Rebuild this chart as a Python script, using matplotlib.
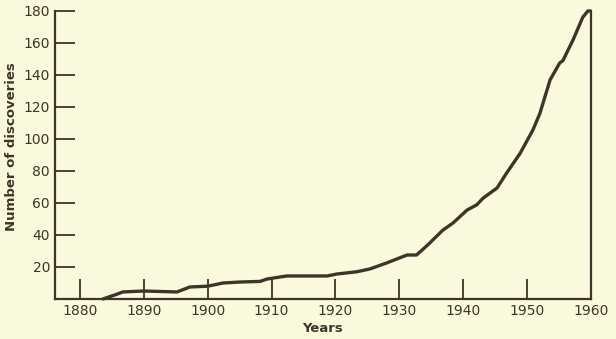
import matplotlib
matplotlib.use("Agg")
import matplotlib.pyplot as plt

years = [1883.6, 1885.8, 1886.7, 1890.0, 1895.2, 1897.2, 1900.0, 1902.4, 1905.0,
         1908.2, 1909.3, 1912.4, 1918.7, 1920.2, 1923.3, 1925.4, 1928.0, 1931.2,
         1932.7, 1934.5, 1936.8, 1938.4, 1940.6, 1942.1, 1943.1, 1945.3, 1946.8,
         1948.9, 1950.9, 1952.0, 1953.6, 1955.1, 1955.6, 1957.2, 1958.7, 1959.5,
         1959.9]
discoveries = [0, 3, 4.4, 5, 4.4, 7.5, 8, 10, 10.6,
               11, 12.5, 14.4, 14.4, 15.6, 17, 18.8, 22.5, 27.5,
               27.5, 34, 43, 47.5, 55.6, 58.8, 63, 69.4, 78.8,
               91, 105.6, 116, 137, 147.5, 149, 162, 176, 180,
               180]
xlabels_pos = [1880, 1890, 1900, 1910, 1920, 1930, 1940, 1950, 1960]
yticks = [20, 40, 60, 80, 100, 120, 140, 160, 180]

bg = "#fbf9dd"
ink = "#3b3629"

fig = plt.figure(figsize=(6.16, 3.39), dpi=100, facecolor=bg)
ax = fig.add_axes([55/616, 40/339, (591-55)/616, (299-11)/339])
ax.set_facecolor(bg)

ax.plot(years, discoveries, color=ink, lw=2.4, solid_capstyle="round",
        solid_joinstyle="round", clip_on=False)

ax.set_xlim(1876.1, 1960)
ax.set_ylim(0, 180)

for s in ["left", "bottom", "right"]:
    ax.spines[s].set_color(ink)
    ax.spines[s].set_linewidth(1.6)
ax.spines["top"].set_visible(False)

ax.set_xticks(xlabels_pos)
ax.set_xticklabels([str(v) for v in xlabels_pos])
ax.set_yticks(yticks)
ax.set_yticklabels([str(v) for v in yticks])
ax.tick_params(axis="both", direction="in", length=14.5, width=1.3, color=ink,
               labelsize=10, labelcolor=ink, pad=3.6)
# the right border stands in for the 1960 tick
ax.xaxis.get_major_ticks()[-1].tick1line.set_visible(False)

ax.set_xlabel("Years", fontsize=9.5, fontweight="bold", color=ink, labelpad=3)
ax.set_ylabel("Number of discoveries", fontsize=9.5, fontweight="bold", color=ink)
ax.yaxis.set_label_coords(-0.069, 0.53)

fig.savefig("out.png", dpi=100, facecolor=bg)
